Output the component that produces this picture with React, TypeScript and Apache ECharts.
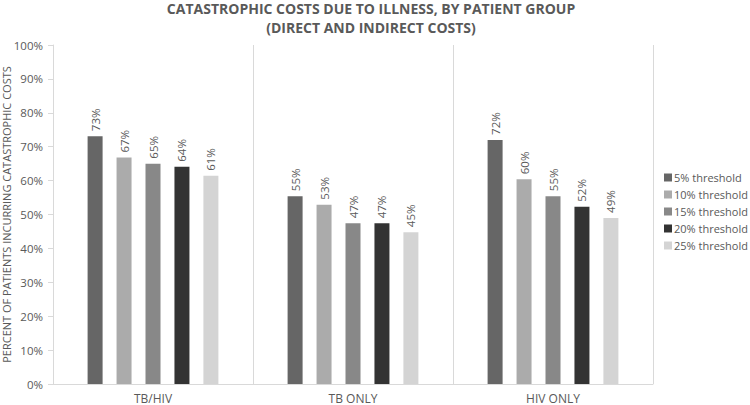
import React, { useEffect, useRef } from "react";
import * as echarts from "echarts";

const categories = ["TB/HIV", "TB ONLY", "HIV ONLY"];
const seriesNames = ["5% threshold", "10% threshold", "15% threshold", "20% threshold", "25% threshold"];
const threshold5 = [73.1, 55.4, 72.0];
const threshold10 = [66.8, 52.9, 60.4];
const threshold15 = [65.0, 47.4, 55.4];
const threshold20 = [64.1, 47.4, 52.3];
const threshold25 = [61.4, 44.8, 49.0];
const yTicks = [0, 10, 20, 30, 40, 50, 60, 70, 80, 90, 100];

const colors = ["#666666", "#ababab", "#888888", "#333333", "#d4d4d4"];
const textColor = "#595959";
const font = "'Open Sans', 'Liberation Sans', sans-serif";

export default function App() {
  const ref = useRef<HTMLDivElement>(null);
  useEffect(() => {
    if (!ref.current) return;
    const chart = echarts.init(ref.current, undefined, { renderer: "svg" });
    const data = [threshold5, threshold10, threshold15, threshold20, threshold25];
    chart.setOption({
      animation: false,
      backgroundColor: "#ffffff",
      textStyle: { fontFamily: font },
      title: {
        text: "CATASTROPHIC COSTS DUE TO ILLNESS, BY PATIENT GROUP\n(DIRECT AND INDIRECT COSTS)",
        left: 371,
        textAlign: "center",
        top: -1,
        padding: 0,
        textStyle: { fontFamily: font, fontSize: 14, fontWeight: "bold", color: textColor, lineHeight: 19 },
      },
      legend: {
        orient: "vertical",
        left: 664,
        top: 172,
        padding: 0,
        itemWidth: 8,
        itemHeight: 8,
        itemGap: 6,
        icon: "rect",
        data: seriesNames,
        textStyle: { fontFamily: font, fontSize: 11, color: textColor, padding: [0, 0, 0, -3] },
      },
      grid: { left: 53, right: 97, top: 45, bottom: 21, containLabel: false, outerBoundsMode: "none" },
      xAxis: {
        type: "category",
        data: categories,
        axisLine: { show: true, lineStyle: { color: "#d9d9d9" } },
        axisTick: { show: false },
        axisLabel: { color: textColor, fontSize: 12, margin: 8, fontFamily: font },
        splitLine: { show: true, interval: 0, lineStyle: { color: "#d9d9d9", width: 1 } },
      },
      yAxis: {
        type: "value",
        min: yTicks[0],
        max: yTicks[yTicks.length - 1],
        interval: 10,
        name: "PERCENT OF PATIENTS INCURRING CATASTROPHIC COSTS",
        nameLocation: "middle",
        nameGap: 41,
        nameMoveOverlap: false,
        nameTextStyle: { color: textColor, fontSize: 11, fontFamily: font },
        axisLine: { show: true, lineStyle: { color: "#d9d9d9" } },
        axisTick: { show: true, length: 5, lineStyle: { color: "#d9d9d9" } },
        axisLabel: { color: textColor, fontSize: 11.5, margin: 10, formatter: (v: number) => v + "%", fontFamily: font },
        splitLine: { show: false },
      },
      series: seriesNames.map((name, i) => ({
        name,
        type: "bar",
        data: data[i],
        barWidth: 15,
        barGap: "93%",
        itemStyle: { color: colors[i] },
        label: {
          show: true,
          position: "top",
          rotate: 90,
          align: "left",
          verticalAlign: "middle",
          distance: 5,
          color: textColor,
          fontSize: 11.5,
          fontFamily: font,
          formatter: (p: any) => Math.round(p.value) + "%",
        },
      })),
    });
    return () => chart.dispose();
  }, []);
  return <div ref={ref} style={{ position: "fixed", left: 0, top: 0, width: 750, height: 405 }} />;
}
